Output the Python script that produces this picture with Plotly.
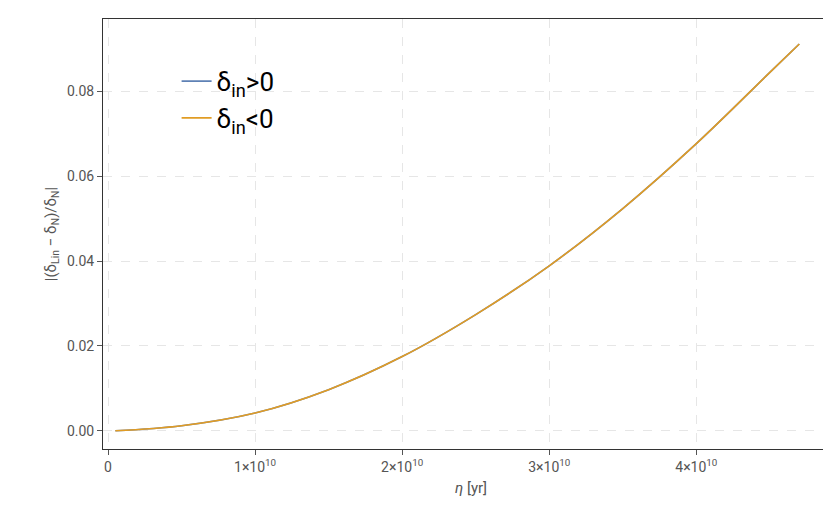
import plotly.graph_objects as go

eta = [0.05e10, 0.5e10, 1e10, 1.5e10, 2e10, 2.5e10, 3e10, 3.5e10, 4e10, 4.5e10, 4.7e10]
err = [0.0, 0.0012, 0.0042, 0.0097, 0.0175, 0.0274, 0.0389, 0.0524, 0.0677, 0.0845, 0.0912]
xticks = [0, 1e10, 2e10, 3e10, 4e10]
xlabels = ["0", "1×10<sup>10</sup>", "2×10<sup>10</sup>", "3×10<sup>10</sup>", "4×10<sup>10</sup>"]
yticks = [0.0, 0.02, 0.04, 0.06, 0.08]

fig = go.Figure()
fig.add_trace(go.Scatter(x=eta, y=err, mode="lines", line=dict(color="#5e81b5", width=1.6, shape="spline"),
                         name="δ<sub>in</sub>>0"))
fig.add_trace(go.Scatter(x=eta, y=err, mode="lines", line=dict(color="#e19c24", width=1.6, shape="spline"),
                         name="δ<sub>in</sub><0"))
grid = dict(showgrid=True, gridcolor="#e6e6e6", griddash="dash", gridwidth=1, zeroline=False,
            showline=True, linecolor="#333", mirror=True, ticks="outside", tickcolor="#555",
            tickfont=dict(family="Roboto", size=14, color="#555"))
fig.update_layout(
    width=831, height=529, plot_bgcolor="white", paper_bgcolor="white",
    margin=dict(l=95, r=0, t=11, b=88, autoexpand=False),
    font=dict(family="Roboto", color="#555"),
    xaxis=dict(range=[-0.034e10, 4.97e10], tickvals=xticks, ticktext=xlabels, automargin=False,
               title=dict(text="<i>η</i> [yr]", font=dict(size=15, color="#555"), standoff=8), **grid),
    yaxis=dict(range=[-0.0043, 0.0971], tickvals=yticks, tickformat=".2f", automargin=False,
               title=dict(text="|(δ<sub>Lin</sub> − δ<sub>N</sub>)/δ<sub>N</sub>|", font=dict(size=15, color="#555"), standoff=6), **grid),
    legend=dict(x=0.1, y=0.91, xanchor="left", yanchor="top", bgcolor="rgba(0,0,0,0)",
                font=dict(size=26, color="black", family="Roboto")),
)
fig.write_html("out.html")
